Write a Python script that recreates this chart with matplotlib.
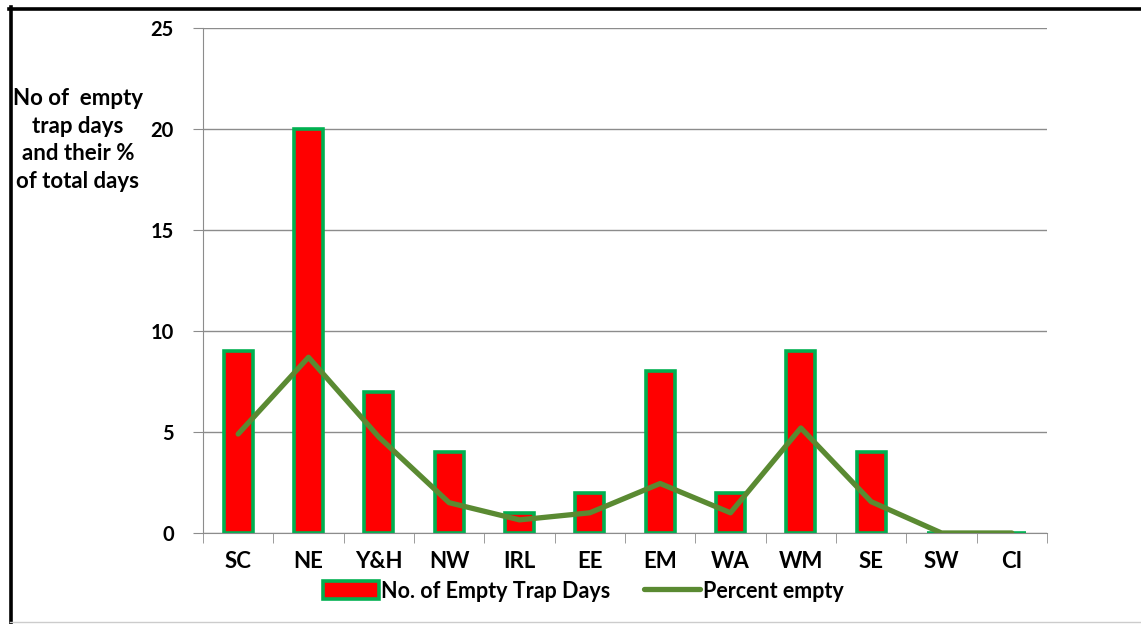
import matplotlib.pyplot as plt
from matplotlib.lines import Line2D
import numpy as np

regions = ['SC', 'NE', 'Y&H', 'NW', 'IRL', 'EE', 'EM', 'WA', 'WM', 'SE', 'SW', 'CI']
empty_days = [9, 20, 7, 4, 1, 2, 8, 2, 9, 4, 0, 0]
percent_empty = [4.9, 8.7, 4.75, 1.5, 0.65, 1.0, 2.45, 1.0, 5.2, 1.55, 0, 0]
y_ticks = [0, 5, 10, 15, 20, 25]

plt.rcParams['font.family'] = ['Lato', 'DejaVu Sans']
plt.rcParams['font.weight'] = 'bold'

fig = plt.figure(figsize=(11.41, 6.24), dpi=100)
ax = fig.add_axes([203 / 1141, 91 / 624, 844 / 1141, 505 / 624])

x = np.arange(len(regions))
bars = ax.bar(x, empty_days, width=0.41, color='#ff0000', edgecolor='#00b050',
              linewidth=2.6, label='No. of Empty Trap Days', zorder=2)
line, = ax.plot(x, percent_empty, color='#5a8a32', linewidth=3.8,
                label='Percent empty', zorder=3, solid_capstyle='round')

ax.set_xlim(-0.5, len(regions) - 0.5)
ax.set_ylim(0, 25)
ax.set_yticks(y_ticks)
ax.set_yticklabels([str(t) for t in y_ticks], fontsize=14.5, fontweight='bold')
ax.yaxis.grid(True, color='#8c8c8c', linewidth=1)
ax.set_axisbelow(True)

# category labels centred, tick marks between categories
ax.set_xticks(x)
ax.set_xticklabels(regions, fontsize=16, fontweight='bold')
ax.tick_params(axis='x', length=0, pad=13)
ax.set_xticks(np.arange(-0.5, len(regions)), minor=True)
ax.tick_params(axis='x', which='minor', length=7, color='#8c8c8c', direction='out')
ax.tick_params(axis='y', length=7, color='#8c8c8c', pad=14)

for side in ['top', 'right']:
    ax.spines[side].set_visible(False)
for side in ['left', 'bottom']:
    ax.spines[side].set_color('#8c8c8c')

fig.text(78 / 1141, 1 - 140 / 624,
         'No of  empty\ntrap days\nand their %\nof total days',
         ha='center', va='center', fontsize=16, fontweight='bold',
         linespacing=1.4)

fig.legend([bars, line], ['No. of Empty Trap Days', 'Percent empty'],
           loc='center', ncol=2,
           bbox_to_anchor=(583 / 1141, 1 - 591 / 624), frameon=False,
           fontsize=15.5, handlelength=2.6, handleheight=0.9,
           handletextpad=0.1, columnspacing=1.6)

# outer frame of the chart area
fig.add_artist(Line2D([9 / 1141, 1], [1 - 8.5 / 624] * 2,
                      color='black', linewidth=2.6, transform=fig.transFigure))
fig.add_artist(Line2D([10.5 / 1141] * 2, [0, 1 - 7 / 624],
                      color='black', linewidth=2.6, transform=fig.transFigure))
fig.add_artist(Line2D([10 / 1141, 1], [1 - 622 / 624] * 2,
                      color='#cccccc', linewidth=1, transform=fig.transFigure))

fig.savefig('out.png', dpi=100)
